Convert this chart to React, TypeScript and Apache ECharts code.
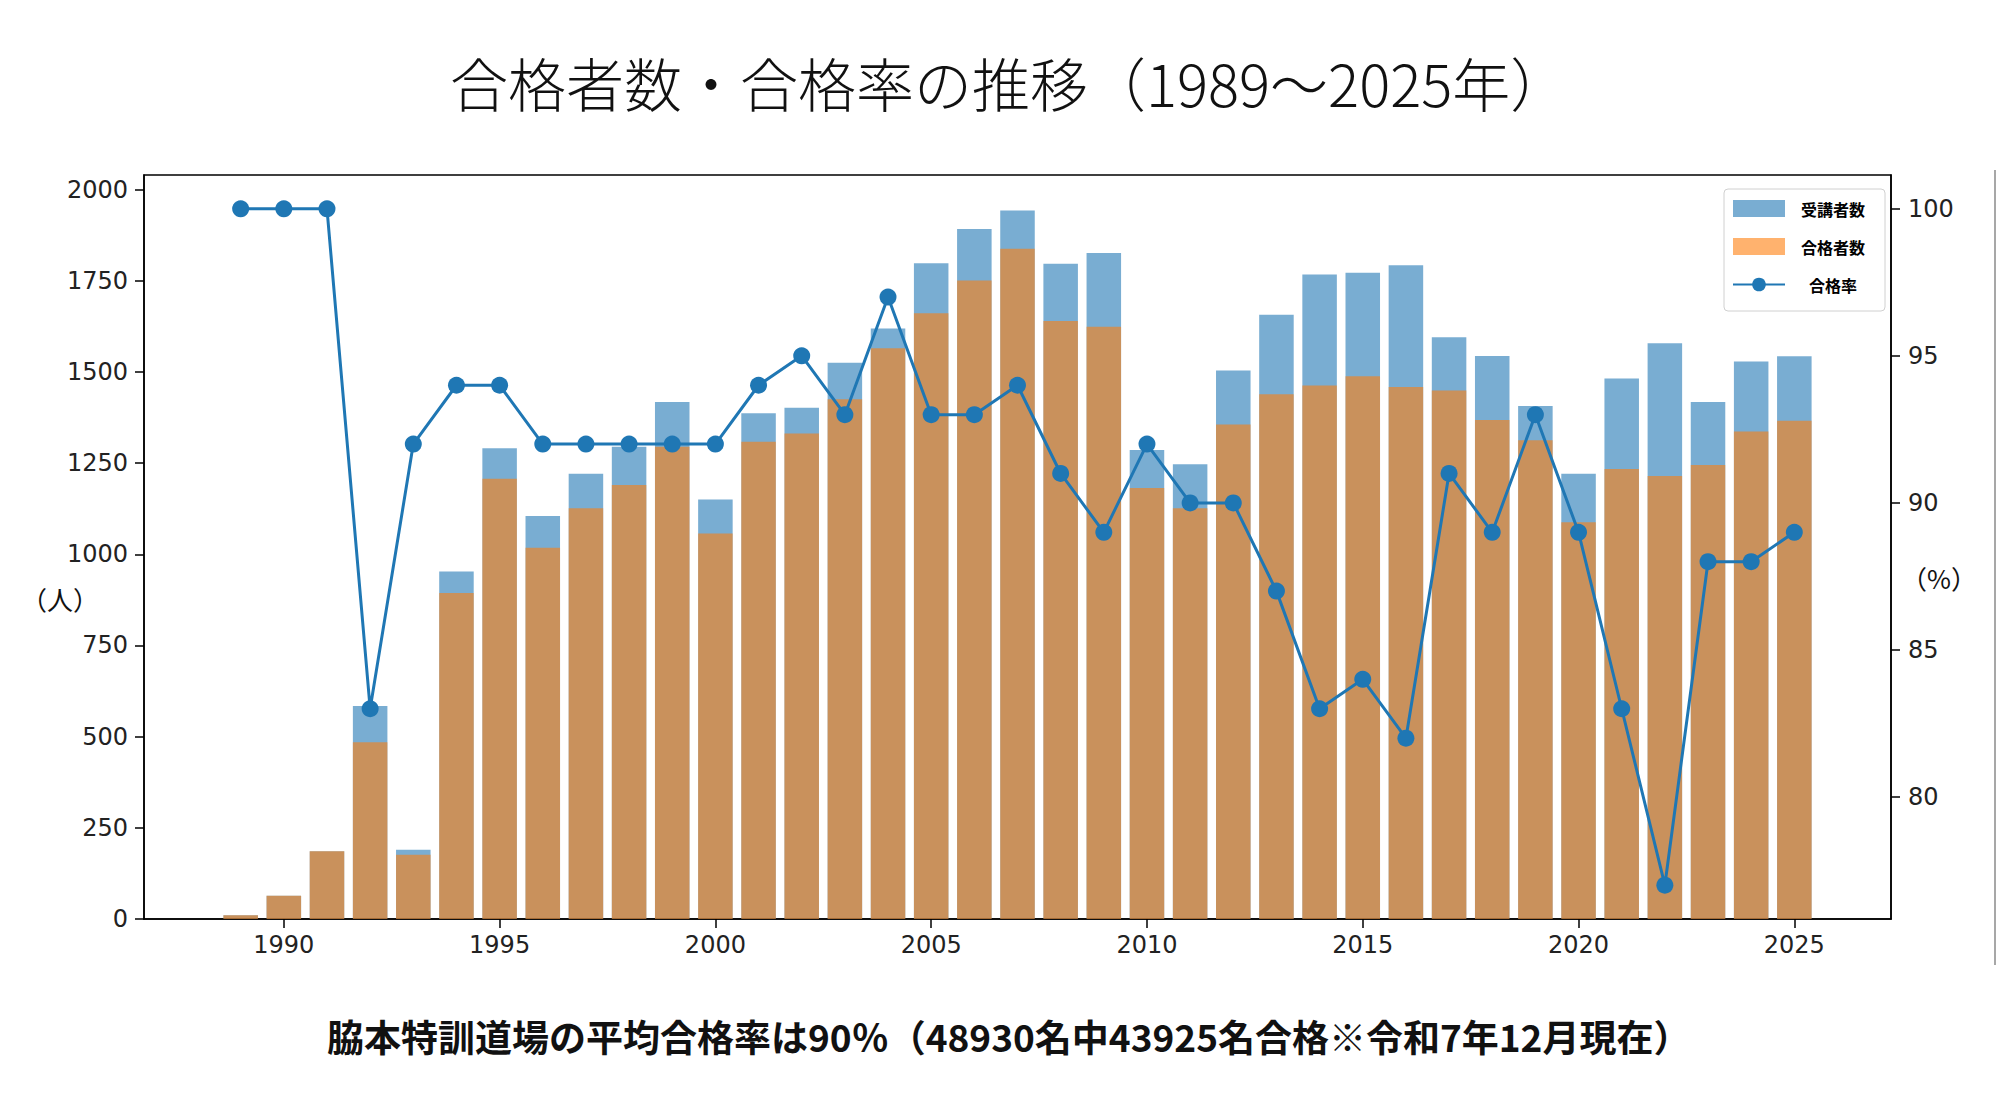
import React, { useEffect, useRef } from "react";
import * as echarts from "echarts";

const years = [
  1989, 1990, 1991, 1992, 1993, 1994, 1995, 1996, 1997, 1998, 1999, 2000, 2001,
  2002, 2003, 2004, 2005, 2006, 2007, 2008, 2009, 2010, 2011, 2012, 2013, 2014,
  2015, 2016, 2017, 2018, 2019, 2020, 2021, 2022, 2023, 2024, 2025,
];
const examinees = [
  10, 64, 186, 584, 190, 953, 1291, 1105, 1221, 1295, 1418, 1150, 1387, 1402,
  1525, 1619, 1798, 1892, 1943, 1797, 1826, 1286, 1247, 1504, 1657, 1767, 1772,
  1793, 1595, 1544, 1407, 1221, 1482, 1579, 1418, 1529, 1543,
];
const passers = [
  10, 64, 186, 485, 176, 894, 1207, 1018, 1126, 1190, 1295, 1057, 1309, 1331,
  1425, 1565, 1661, 1751, 1838, 1640, 1624, 1182, 1126, 1356, 1439, 1463, 1488,
  1459, 1449, 1368, 1313, 1088, 1234, 1215, 1245, 1337, 1366,
];
const passRate = [
  100, 100, 100, 83, 92, 94, 94, 92, 92, 92, 92, 92, 94, 95, 93, 97, 93, 93, 94,
  91, 89, 92, 90, 90, 87, 83, 84, 82, 91, 89, 93, 89, 83, 77, 88, 88, 89,
];
const xTicks = [1990, 1995, 2000, 2005, 2010, 2015, 2020, 2025];
const leftTicks = [0, 250, 500, 750, 1000, 1250, 1500, 1750, 2000];
const rightTicks = [80, 85, 90, 95, 100];

const seriesNames = ["受講者数", "合格者数", "合格率"];
const titleText = "合格者数・合格率の推移（1989～2025年）";
const footerText =
  "脇本特訓道場の平均合格率は90％（48930名中43925名合格※令和7年12月現在）";
const leftUnit = "（人）";
const rightUnit = "（%）";

export default function App() {
  const ref = useRef<HTMLDivElement>(null);

  useEffect(() => {
    if (!ref.current) return;
    const chart = echarts.init(ref.current, undefined, { renderer: "svg" });

    const gridLeft = 144;
    const gridRight = 109;
    const plotW = 2000 - gridLeft - gridRight;

    const xLo = years[0] - 0.4;
    const xHi = years[years.length - 1] + 0.4;
    const xPad = (xHi - xLo) * 0.05;
    const xMin = xLo - xPad;
    const xMax = xHi + xPad;
    const barW = (0.8 * plotW) / (xMax - xMin);

    const yMax = Math.max(...examinees) * 1.05;
    const rLo = Math.min(...passRate);
    const rHi = Math.max(...passRate);
    const rPad = (rHi - rLo) * 0.05;

    const tickFont = {
      fontFamily: "DejaVu Sans",
      fontSize: 24,
      color: "#222",
    };
    const tickStyle = { color: "#000", width: 1.5 };

    const legendFont = {
      fontFamily: "Noto Sans CJK JP",
      fontSize: 16,
      fontWeight: "bold" as const,
      color: "#000",
    };

    chart.setOption({
      animation: false,
      backgroundColor: "#fff",
      grid: {
        left: gridLeft,
        right: gridRight,
        top: 175,
        bottom: 192,
        show: true,
        borderColor: "#000",
        borderWidth: 1.5,
        backgroundColor: "transparent",
      },
      legend: {
        orient: "vertical",
        left: 1724,
        top: 189,
        padding: [11, 20, 18, 8],
        itemWidth: 52,
        itemHeight: 17,
        itemGap: 21,
        selectedMode: false,
        backgroundColor: "rgba(255,255,255,0.8)",
        borderColor: "#d0d0d0",
        borderWidth: 1,
        borderRadius: 4,
        data: [
          { name: seriesNames[0], icon: "rect" },
          { name: seriesNames[1], icon: "rect" },
          { name: seriesNames[2] },
        ],
        formatter: (name: string) =>
          name === seriesNames[2] ? `{b|${name}}` : `{a|${name}}`,
        textStyle: {
          ...legendFont,
          lineHeight: 17,
          rich: {
            a: { ...legendFont, lineHeight: 17, padding: [0, 0, 0, 11] },
            b: { ...legendFont, lineHeight: 17, padding: [0, 0, 0, 19] },
          },
        },
      },
      xAxis: {
        type: "value",
        min: xMin,
        max: xMax,
        splitLine: { show: false },
        axisLine: { show: true, lineStyle: { color: "#000", width: 1.5 } },
        axisTick: {
          show: true,
          length: 9,
          lineStyle: tickStyle,
          customValues: xTicks,
        },
        axisLabel: {
          ...tickFont,
          margin: 14,
          customValues: xTicks,
          formatter: (v: number) => String(v),
        },
      },
      yAxis: [
        {
          type: "value",
          min: 0,
          max: yMax,
          position: "left",
          splitLine: { show: false },
          axisLine: { show: true, lineStyle: { color: "#000", width: 1.5 } },
          axisTick: {
            show: true,
            length: 9,
            lineStyle: tickStyle,
            customValues: leftTicks,
          },
          axisLabel: {
            ...tickFont,
            margin: 16,
            customValues: leftTicks,
            formatter: (v: number) => String(v),
          },
        },
        {
          type: "value",
          min: rLo - rPad,
          max: rHi + rPad,
          position: "right",
          splitLine: { show: false },
          axisLine: { show: true, lineStyle: { color: "#000", width: 1.5 } },
          axisTick: {
            show: true,
            length: 9,
            lineStyle: tickStyle,
            customValues: rightTicks,
          },
          axisLabel: {
            ...tickFont,
            margin: 17,
            customValues: rightTicks,
            formatter: (v: number) => String(v),
          },
        },
      ],
      series: [
        {
          name: seriesNames[0],
          type: "bar",
          barWidth: barW,
          barGap: "-100%",
          itemStyle: { color: "rgba(31,119,180,0.6)" },
          data: years.map((y, i) => [y, examinees[i]]),
          z: 2,
        },
        {
          name: seriesNames[1],
          type: "bar",
          barWidth: barW,
          barGap: "-100%",
          itemStyle: { color: "rgba(255,127,14,0.6)" },
          data: years.map((y, i) => [y, passers[i]]),
          z: 2,
        },
        {
          name: seriesNames[2],
          type: "line",
          yAxisIndex: 1,
          symbol: "circle",
          symbolSize: 17,
          lineStyle: { color: "#1f77b4", width: 3 },
          itemStyle: { color: "#1f77b4" },
          data: years.map((y, i) => [y, passRate[i]]),
          z: 4,
        },
      ],
      graphic: [
        {
          type: "text",
          x: 450,
          y: 82,
          style: {
            text: titleText,
            font: '300 58px "Noto Sans CJK JP"',
            fill: "#111",
            textAlign: "left",
            textVerticalAlign: "middle",
          },
        },
        {
          type: "text",
          x: 327,
          y: 1036,
          style: {
            text: footerText,
            font: 'bold 37px "Noto Sans CJK JP"',
            fill: "#111",
            textAlign: "left",
            textVerticalAlign: "middle",
          },
        },
        {
          type: "text",
          x: 60,
          y: 598,
          style: {
            text: leftUnit,
            font: '26px "Noto Sans CJK JP"',
            fill: "#111",
            textAlign: "center",
            textVerticalAlign: "middle",
          },
        },
        {
          type: "text",
          x: 1939,
          y: 577,
          style: {
            text: rightUnit,
            font: '26px "Noto Sans CJK JP"',
            fill: "#111",
            textAlign: "center",
            textVerticalAlign: "middle",
          },
        },
        {
          type: "line",
          shape: { x1: 1995, y1: 170, x2: 1995, y2: 965 },
          style: { stroke: "#8a8a8a", lineWidth: 1.5 },
        },
      ],
    });

    return () => chart.dispose();
  }, []);

  return (
    <div
      ref={ref}
      style={{
        position: "absolute",
        left: 0,
        top: 0,
        width: 2000,
        height: 1111,
        background: "#fff",
      }}
    />
  );
}
